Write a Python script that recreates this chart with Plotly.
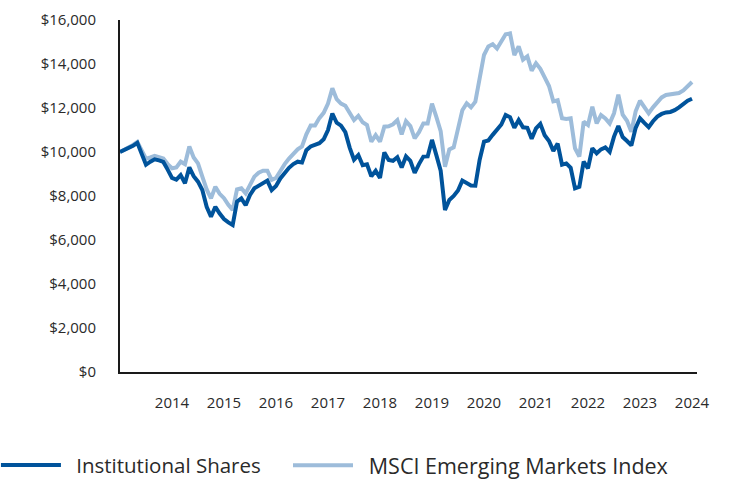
import plotly.graph_objects as go

start_year = 2013
institutional = [
    10000, 10080, 10180, 10280, 10420, 9900, 9420, 9560, 9670, 9620, 9550, 9200,
    8820, 8740, 8950, 8580, 9300, 8900, 8650, 8270, 7510, 7060, 7510, 7200,
    6950, 6800, 6680, 7740, 7890, 7580, 8045, 8350, 8480, 8620, 8700, 8270,
    8450, 8800, 9050, 9280, 9450, 9560, 9520, 10080, 10250, 10330, 10400, 10580,
    11000, 11750, 11330, 11200, 10900, 10200, 9650, 9860, 9400, 9440, 8900, 9150,
    8820, 9980, 9640, 9600, 9760, 9300, 9800, 9600, 9050, 9450, 9790, 9800,
    10550, 9860, 9150, 7360, 7820, 8000, 8250, 8700, 8610, 8480, 8470, 9650,
    10470, 10520, 10780, 11050, 11250, 11680, 11580, 11100, 11450, 11120, 11100, 10600,
    11070, 11280, 10760, 10500, 10050, 10380, 9420, 9480, 9280, 8350, 8420, 9560,
    9260, 10170, 9940, 10120, 10210, 10010, 10700, 11180, 10680, 10500, 10300, 11100,
    11530, 11320, 11130, 11400, 11610, 11730, 11800, 11820, 11900, 12030, 12180, 12330,
    12420,
]
msci_em = [
    10000, 10100, 10200, 10320, 10460, 10100, 9700, 9750, 9820, 9760, 9700, 9450,
    9260, 9300, 9560, 9450, 10250, 9750, 9480, 8880, 8300, 7890, 8420, 8100,
    7900, 7600, 7360, 8300, 8350, 8120, 8500, 8880, 9060, 9150, 9150, 8730,
    8820, 9180, 9450, 9700, 9900, 10120, 10250, 10800, 11200, 11200, 11540, 11780,
    12200, 12900, 12400, 12200, 12100, 11750, 11450, 11640, 11350, 11230, 10470, 10770,
    10470, 11150, 11170, 11260, 11450, 10800, 11400, 11180, 10620, 10900, 11300, 11300,
    12200, 11600, 10950, 9330, 10120, 10210, 11000, 11900, 12210, 12030, 12290, 13350,
    14410, 14800, 14900, 14700, 15000, 15350, 15390, 14400, 14800, 14200, 14350, 13700,
    14030, 13780, 13390, 13000, 12300, 12350, 11530, 11500, 11530, 10170, 9790, 11380,
    11230, 12060, 11300, 11680, 11530, 11300, 11760, 12600, 11700, 11420, 10920, 11850,
    12330, 12060, 11760, 12030, 12290, 12480, 12590, 12610, 12640, 12680, 12800, 13000,
    13180,
]
series_names = ["Institutional Shares", "MSCI Emerging Markets Index"]
x_tick_years = [2014, 2015, 2016, 2017, 2018, 2019, 2020, 2021, 2022, 2023, 2024]
y_ticks = [0, 2000, 4000, 6000, 8000, 10000, 12000, 14000, 16000]
y_tick_labels = ["$0", "$2,000", "$4,000", "$6,000", "$8,000", "$10,000", "$12,000", "$14,000", "$16,000"]

x_vals = [start_year + i / 12 for i in range(len(institutional))]

FONT = "Open Sans"
TXT = "#2a2a2a"
PAD = "\u2002"  # small visual gap between legend swatch and label

fig = go.Figure()
fig.add_trace(go.Scatter(
    x=x_vals, y=msci_em, mode="lines", name=PAD + series_names[1],
    line=dict(color="#9DBCDA", width=4), legend="legend2",
))
fig.add_trace(go.Scatter(
    x=x_vals, y=institutional, mode="lines", name=PAD + series_names[0],
    line=dict(color="#00539B", width=4), legend="legend",
))

legend_common = dict(
    orientation="h", xanchor="left", yanchor="middle", y=-0.265,
    itemwidth=60, bgcolor="rgba(0,0,0,0)",
)

fig.update_layout(
    width=732, height=480,
    margin=dict(l=120, r=35, t=20, b=108, autoexpand=False),
    paper_bgcolor="white", plot_bgcolor="white",
    font=dict(family=FONT, color=TXT, size=15),
    showlegend=True,
    legend=dict(x=-0.215, font=dict(size=20.5, family=FONT, color=TXT), **legend_common),
    legend2=dict(x=(292 - 120 - 4) / 577, font=dict(size=21.5, family=FONT, color=TXT), **legend_common),
    xaxis=dict(
        range=[2013, 2024.096], tickmode="array", tickvals=x_tick_years,
        ticktext=[str(y) for y in x_tick_years],
        showgrid=False, zeroline=False, showline=True, linecolor="#1a1a1a", linewidth=2,
        ticks="", ticklabelstandoff=16, tickfont=dict(size=15),
    ),
    yaxis=dict(
        range=[0, 16000], tickmode="array", tickvals=y_ticks, ticktext=y_tick_labels,
        showgrid=False, zeroline=False, showline=True, linecolor="#1a1a1a", linewidth=2,
        ticks="", ticklabelstandoff=19, tickfont=dict(size=15),
    ),
)

fig.write_html(
    "out.html",
    config={"displayModeBar": False},
    post_script="document.body.style.margin='0';document.body.style.padding='0';",
)
